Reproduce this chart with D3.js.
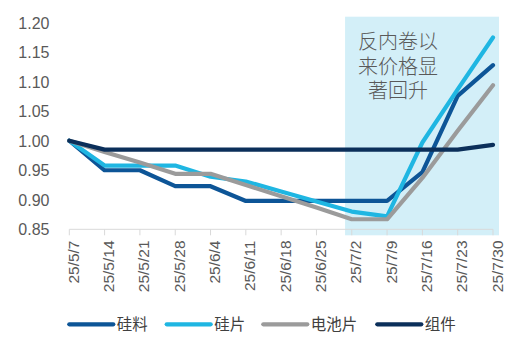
<!DOCTYPE html>
<html>
<head>
<meta charset="utf-8">
<script src="https://cdn.jsdelivr.net/npm/d3@7"></script>
<style>
  body { margin: 0; background: #fff; }
  text { font-family: "Liberation Sans", Arial, sans-serif; }
</style>
</head>
<body>
<svg id="chart" width="522" height="353"></svg>
<script>
const dates = ["25/5/7", "25/5/14", "25/5/21", "25/5/28", "25/6/4", "25/6/11", "25/6/18",
  "25/6/25", "25/7/2", "25/7/9", "25/7/16", "25/7/23", "25/7/30"];

const siliao = [1.00, 0.950, 0.950, 0.923, 0.923, 0.898, 0.898, 0.898, 0.898, 0.898, 0.947, 1.076, 1.128];
const guipian = [1.00, 0.958, 0.958, 0.958, 0.939, 0.931, 0.914, 0.897, 0.880, 0.872, 0.997, 1.087, 1.175];
const dianchi = [1.00, 0.981, 0.963, 0.944, 0.944, 0.925, 0.906, 0.887, 0.867, 0.867, 0.937, 1.017, 1.094];
const zujian = [1.00, 0.985, 0.985, 0.985, 0.985, 0.985, 0.985, 0.985, 0.985, 0.985, 0.985, 0.985, 0.993];

const yTicks = [0.85, 0.90, 0.95, 1.00, 1.05, 1.10, 1.15, 1.20];
const seriesNames = ["硅料", "硅片", "电池片", "组件"];
const seriesColors = ["#0d5597", "#1fb6e2", "#9b9b9b", "#0b2f5a"];
const highlightFrom = "25/7/2";
const note = ["反内卷以", "来价格显", "著回升"];

const series = [siliao, guipian, dianchi, zujian];

const svg = d3.select("#chart");

const x = d3.scalePoint()
  .domain(dates)
  .range([69.3, 493]);

const y = d3.scaleLinear()
  .domain([0.85, 1.20])
  .range([229.3, 22.7]);

// shaded period
svg.append("rect")
  .attr("x", x(highlightFrom) - 6.7)
  .attr("y", y(1.20) - 6)
  .attr("width", x(dates[dates.length - 1]) + 6 - (x(highlightFrom) - 6.7))
  .attr("height", y(0.85) + 6 - (y(1.20) - 6))
  .attr("fill", "#d3eff8");

// annotation, one text block with one tspan per line
svg.append("text")
  .attr("class", "note")
  .attr("text-anchor", "middle")
  .style("font-family", "'Noto Sans CJK SC', sans-serif")
  .style("font-weight", 300)
  .style("font-size", "20px")
  .attr("fill", "#595959")
  .selectAll("tspan")
  .data(note)
  .join("tspan")
    .attr("x", 398)
    .attr("y", (d, i) => 49 + i * 24.5)
    .text(d => d);

// x axis line + ticks
svg.append("line")
  .attr("x1", x(dates[0])).attr("x2", x(dates[dates.length - 1]))
  .attr("y1", y(0.85)).attr("y2", y(0.85))
  .attr("stroke", "#d9d9d9").attr("stroke-width", 1);

svg.selectAll(".xtick")
  .data(dates)
  .join("line")
    .attr("class", "xtick")
    .attr("x1", d => x(d)).attr("x2", d => x(d))
    .attr("y1", y(0.85)).attr("y2", y(0.85) + 6)
    .attr("stroke", "#d9d9d9");

svg.selectAll(".xlabel")
  .data(dates)
  .join("text")
    .attr("class", "xlabel")
    .attr("transform", d => "translate(" + (x(d) + 9.5) + "," + 240.5 + ") rotate(-90)")
    .attr("text-anchor", "end")
    .style("font-size", "15.5px")
    .attr("fill", "#595959")
    .text(d => d);

svg.selectAll(".ylabel")
  .data(yTicks)
  .join("text")
    .attr("class", "ylabel")
    .attr("x", 49.5)
    .attr("y", d => y(d) + 5.8)
    .attr("text-anchor", "end")
    .style("font-size", "16px")
    .attr("fill", "#595959")
    .text(d => d.toFixed(2));

const line = d3.line()
  .x((d, i) => x(dates[i]))
  .y(d => y(d));

svg.selectAll(".series")
  .data(series)
  .join("path")
    .attr("class", "series")
    .attr("d", d => line(d))
    .attr("fill", "none")
    .attr("stroke", (d, i) => seriesColors[i])
    .attr("stroke-width", 4.2)
    .attr("stroke-linejoin", "round")
    .attr("stroke-linecap", "round");

// legend
const legendX = [69.3, 166.7, 263.3, 377.3];
const legend = svg.selectAll(".legend")
  .data(seriesNames)
  .join("g")
    .attr("class", "legend")
    .attr("transform", (d, i) => "translate(" + legendX[i] + ",324.3)");

legend.append("line")
  .attr("x1", 0).attr("x2", 44)
  .attr("stroke", (d, i) => seriesColors[i])
  .attr("stroke-width", 4.2)
  .attr("stroke-linecap", "round");

legend.append("text")
  .attr("x", 47.5)
  .attr("y", 5.5)
  .style("font-family", "'Noto Sans CJK SC', sans-serif")
  .style("font-size", "15.5px")
  .attr("fill", "#404040")
  .text(d => d);
</script>
</body>
</html>
